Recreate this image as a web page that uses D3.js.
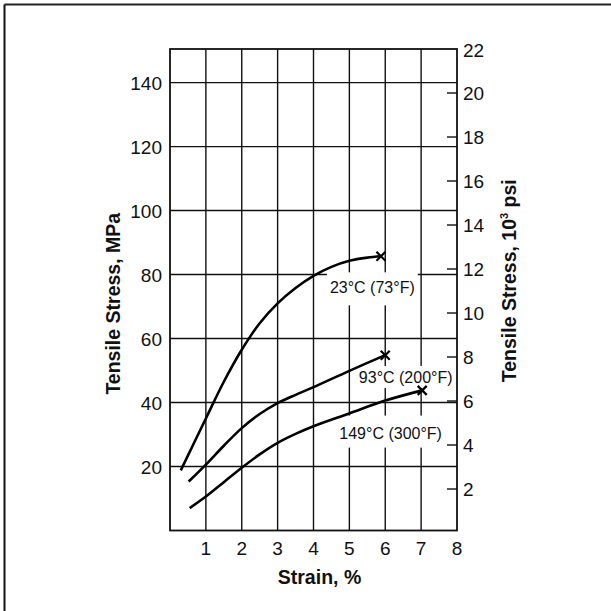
<!DOCTYPE html>
<html><head><meta charset="utf-8">
<script src="https://cdn.jsdelivr.net/npm/d3@7"></script>
<style>
html,body{margin:0;padding:0;background:#fff;}
text{font-family:"Liberation Sans",Arial,Helvetica,sans-serif;fill:#111;}
</style></head>
<body>
<svg id="chart" width="611" height="611"></svg>
<script>
// ---- data ----
const strainTicks = [1,2,3,4,5,6,7,8];
const mpaTicks = [20,40,60,80,100,120,140];
const ksiTicks = [2,4,6,8,10,12,14,16,18,20,22];
const seriesNames = ["23°C (73°F)","93°C (200°F)","149°C (300°F)"];
const strain23 = [0.30,1.0,1.5,2.0,2.5,3.0,3.5,4.0,4.5,5.0,5.5,5.88];
const stress23 = [18.8,35.0,46.5,56.5,64.8,71.0,75.8,79.6,82.4,84.3,85.3,85.7];
const strain93 = [0.52,1.0,1.5,2.0,2.5,3.0,3.5,4.0,5.0,6.0];
const stress93 = [15.3,20.6,26.5,32.0,36.4,39.8,42.4,44.8,49.9,54.8];
const strain149 = [0.55,1.0,1.5,2.0,2.5,3.0,3.5,4.0,5.0,6.0,7.03];
const stress149 = [7.0,10.6,15.1,19.6,23.8,27.4,30.2,32.6,36.6,40.6,43.8];
// label anchor (strain, MPa) in data units
const labelStrain = [5.64,6.57,6.15];
const labelStress = [76.0,48.0,30.6];

// ---- layout ----
const svg = d3.select("#chart");
const L = 170, R = 457, T = 49, B = 530.5;
const x = d3.scaleLinear().domain([0,8]).range([L,R]);
const y = d3.scaleLinear().domain([0,150.5]).range([B,T]);
const yk = d3.scaleLinear().domain([0,22]).range([B+2.5,T]);

// outer border (top & left)
svg.append("line").attr("x1",4.5).attr("x2",611).attr("y1",4.5).attr("y2",4.5).attr("stroke","#222").attr("stroke-width",2);
svg.append("line").attr("x1",4.5).attr("x2",4.5).attr("y1",4.5).attr("y2",611).attr("stroke","#111").attr("stroke-width",2);

const g = svg.append("g");
// grid
g.selectAll(".vg").data(strainTicks.slice(0,-1)).join("line")
  .attr("x1",d=>x(d)).attr("x2",d=>x(d)).attr("y1",T).attr("y2",B)
  .attr("stroke","#111").attr("stroke-width",1.4);
g.selectAll(".hg").data(mpaTicks).join("line")
  .attr("x1",L).attr("x2",R).attr("y1",d=>y(d)).attr("y2",d=>y(d))
  .attr("stroke","#111").attr("stroke-width",1.4);
// right inward ticks
g.selectAll(".rt").data(ksiTicks.slice(0,-1)).join("line")
  .attr("x1",R-10).attr("x2",R).attr("y1",d=>yk(d)).attr("y2",d=>yk(d))
  .attr("stroke","#111").attr("stroke-width",1.4);

// label backgrounds (white boxes that interrupt grid)
const pads = [[9,12],[5,5],[11,9]];
seriesNames.forEach((s,i)=>{
  const t = g.append("text").attr("x",x(labelStrain[i])).attr("y",y(labelStress[i])+6)
    .attr("text-anchor","middle").attr("font-size",16).text(s);
  const bb = t.node().getBBox();
  g.insert("rect","text").attr("x",bb.x-3).attr("y",y(labelStress[i])-6-pads[i][0])
    .attr("width",bb.width+6).attr("height",12+pads[i][0]+pads[i][1]).attr("fill","#fff");
  t.raise();
});

// frame
g.append("rect").attr("x",L).attr("y",T).attr("width",R-L).attr("height",B-T)
  .attr("fill","none").attr("stroke","#111").attr("stroke-width",1.8);

// curves
const line = d3.line().x(d=>x(d[0])).y(d=>y(d[1])).curve(d3.curveCatmullRom.alpha(0.5));
const series = [
  d3.zip(strain23,stress23),
  d3.zip(strain93,stress93),
  d3.zip(strain149,stress149)
];
series.forEach(s=>{
  g.append("path").attr("d",line(s)).attr("fill","none").attr("stroke","#000").attr("stroke-width",2.6);
  const e = s[s.length-1];
  const cx = x(e[0]), cy = y(e[1]), r = 4.5;
  g.append("path").attr("d",`M${cx-r},${cy-r}L${cx+r},${cy+r}M${cx-r},${cy+r}L${cx+r},${cy-r}`)
    .attr("stroke","#000").attr("stroke-width",2.2).attr("fill","none");
});

// tick labels
g.selectAll(".xl").data(strainTicks).join("text")
  .attr("x",d=>x(d)).attr("y",B+24).attr("text-anchor","middle").attr("font-size",19).text(d=>d);
g.selectAll(".yl").data(mpaTicks).join("text")
  .attr("x",L-8).attr("y",d=>y(d)+7).attr("text-anchor","end").attr("font-size",19).text(d=>d);
g.selectAll(".kl").data(ksiTicks).join("text")
  .attr("x",R+6).attr("y",d=>yk(d)+7+(d===22?1:0)).attr("text-anchor","start").attr("font-size",19).text(d=>d);

// axis titles
svg.append("text").attr("transform",`translate(120,${(T+B)/2+14}) rotate(-90)`)
  .attr("text-anchor","middle").attr("font-size",19.5).attr("font-weight","bold").text("Tensile Stress, MPa");
svg.append("text").attr("x",(L+R)/2+6).attr("y",584)
  .attr("text-anchor","middle").attr("font-size",19.5).attr("font-weight","bold").text("Strain, %");
const rt = svg.append("text").attr("transform",`translate(516,${(T+B)/2-9}) rotate(-90)`)
  .attr("text-anchor","middle").attr("font-size",19.5).attr("font-weight","bold");
rt.append("tspan").text("Tensile Stress, 10");
rt.append("tspan").attr("font-size",11).attr("dy",-8).text("3");
rt.append("tspan").attr("dy",8).text(" psi");
</script>
</body></html>
